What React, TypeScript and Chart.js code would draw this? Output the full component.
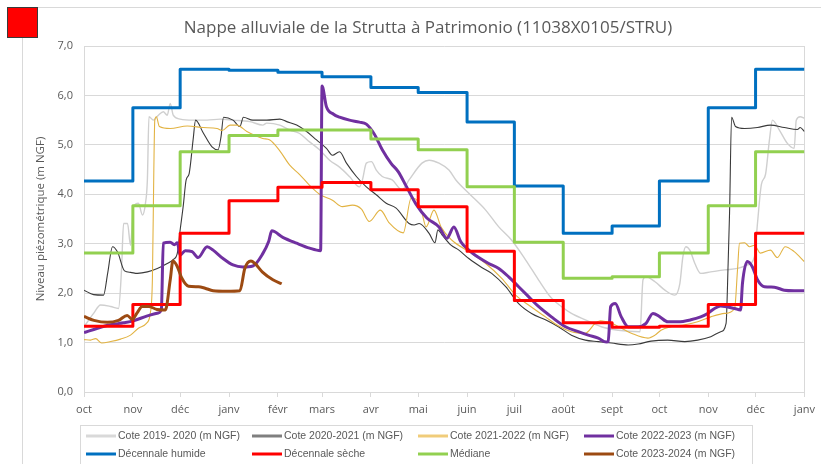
import React, { useEffect, useRef } from 'react';
import { Chart, registerables } from 'chart.js';

Chart.register(...registerables);

// ---- axis definitions (days since 1 October) ----
const monthStarts = [0, 31, 61, 92, 123, 151, 182, 212, 243, 273, 304, 335, 365, 396, 426, 457];
const monthLabels = ['oct', 'nov', 'déc', 'janv', 'févr', 'mars', 'avr', 'mai', 'juin', 'juil', 'août', 'sept', 'oct', 'nov', 'déc', 'janv'];
const yTicks = [0, 1, 2, 3, 4, 5, 6, 7];

const titleText = 'Nappe alluviale de la Strutta à Patrimonio (11038X0105/STRU)';
const yTitle = 'Niveau piézométrique (m NGF)';

// ---- monthly reference levels (one value per month, oct .. déc) ----
const decennaleHumide = [4.27, 5.75, 6.53, 6.51, 6.47, 6.38, 6.16, 6.06, 5.46, 4.17, 3.21, 3.36, 4.27, 5.75, 6.53];
const decennaleSeche = [1.33, 1.77, 3.21, 3.87, 4.14, 4.24, 4.09, 3.75, 2.85, 1.85, 1.40, 1.31, 1.33, 1.77, 3.21];
const mediane = [2.81, 3.77, 4.86, 5.19, 5.30, 5.30, 5.12, 4.90, 4.15, 3.03, 2.30, 2.33, 2.81, 3.77, 4.86];

// ---- Cote 2019-2020 ----
const cote1920Days = [0, 6.1, 10.5, 16.9, 21.9, 23.8, 25.1, 27.6, 29.5, 31.4, 34.5, 37.1, 39.0, 40.2, 41.2, 44.0, 47.2, 50.3, 52.8, 54.7, 56.6, 61.0, 69.2, 78.1, 86.3, 94.5, 105.2, 113.4, 115.9, 124.2, 130.5, 136.8, 143.1, 149.4, 155.8, 162.1, 168.4, 174.7, 176.6, 179.1, 182.3, 185.4, 189.2, 195.5, 201.8, 206.2, 214.4, 218.9, 225.2, 231.5, 235.9, 244.1, 254.8, 263.1, 271.3, 280.2, 288.3, 296.5, 302.8, 309.2, 318.0, 328.1, 338.8, 352.7, 354.6, 356.5, 362.2, 368.5, 374.8, 378.0, 379.9, 381.8, 384.3, 387.5, 391.2, 397.6, 406.4, 414.6, 420.9, 425.3, 427.2, 429.7, 432.3, 434.8, 436.7, 441.1, 446.2, 450.5, 451.8, 454.3, 457];
const cote1920Values = [1.32, 1.59, 1.76, 1.73, 1.69, 2.47, 3.41, 3.41, 2.97, 3.75, 3.82, 3.58, 3.82, 4.29, 5.57, 5.50, 5.60, 5.67, 5.60, 5.84, 5.60, 5.52, 5.50, 5.50, 5.52, 5.50, 5.47, 5.40, 5.44, 5.40, 5.30, 5.23, 5.06, 4.90, 4.69, 4.55, 4.36, 4.15, 4.29, 4.63, 4.66, 4.49, 4.36, 4.29, 4.09, 4.29, 4.63, 4.69, 4.63, 4.49, 4.29, 4.02, 3.68, 3.34, 3.07, 2.67, 2.27, 1.90, 1.73, 1.59, 1.46, 1.32, 1.25, 1.22, 2.27, 2.33, 2.23, 2.06, 1.96, 2.20, 2.74, 2.94, 2.87, 2.60, 2.40, 2.43, 2.47, 2.50, 2.57, 2.74, 3.41, 4.20, 4.40, 5.10, 5.50, 5.30, 5.03, 4.93, 5.50, 5.57, 5.54];

// ---- Cote 2020-2021 ----
const cote2021Days = [0, 6.1, 12.4, 15.0, 18.1, 21.3, 25.7, 29.5, 33.9, 40.2, 46.5, 52.8, 56.6, 59.2, 61.0, 62.9, 64.8, 66.7, 69.2, 70.8, 75.5, 81.2, 85.0, 86.9, 88.5, 94.5, 98.9, 101.1, 107.1, 116.0, 124.2, 128.6, 134.9, 141.2, 147.5, 153.8, 157.6, 162.1, 166.5, 172.8, 179.1, 185.4, 191.7, 198.0, 206.2, 209.4, 212.6, 218.9, 222.6, 224.5, 227.1, 232.8, 237.8, 244.1, 252.3, 258.6, 267.5, 275.7, 283.9, 292.7, 300.9, 309.2, 318.0, 326.2, 334.6, 345.2, 351.5, 359.7, 370.3, 381.1, 389.3, 397.6, 403.9, 407.3, 408.6, 409.5, 410.8, 413.3, 419.0, 427.2, 435.4, 444.2, 452.5, 454.3, 457];
const cote2021Values = [2.06, 1.97, 1.96, 2.40, 2.94, 2.83, 2.45, 2.42, 2.40, 2.43, 2.50, 2.60, 2.68, 2.81, 3.28, 3.75, 4.29, 4.42, 5.10, 5.50, 5.25, 4.96, 4.90, 5.16, 5.56, 5.50, 5.37, 5.56, 5.50, 5.50, 5.52, 5.47, 5.40, 5.27, 5.10, 4.93, 4.79, 4.86, 4.63, 4.36, 4.15, 3.99, 3.82, 3.72, 3.41, 3.38, 3.41, 3.21, 3.02, 3.28, 3.18, 2.97, 2.87, 2.70, 2.52, 2.40, 2.13, 1.79, 1.59, 1.46, 1.32, 1.15, 1.05, 1.02, 0.99, 0.95, 0.97, 1.03, 1.05, 1.02, 1.05, 1.12, 1.22, 1.39, 2.60, 3.62, 5.56, 5.37, 5.33, 5.35, 5.40, 5.35, 5.31, 5.35, 5.27];

// ---- Cote 2021-2022 ----
const cote2122Days = [0, 4.2, 7.4, 11.2, 16.9, 23.2, 29.5, 34.5, 39.6, 42.1, 43.4, 44.3, 44.9, 45.9, 47.8, 54.7, 65.5, 75.6, 84.4, 87.6, 92.6, 97.0, 103.3, 113.4, 117.9, 124.2, 130.5, 136.8, 143.1, 149.4, 157.6, 163.9, 170.3, 176.0, 181.0, 188.0, 193.6, 202.5, 207.6, 211.3, 214.4, 217.0, 222.0, 226.5, 233.4, 244.1, 254.8, 265.0, 273.8, 282.0, 292.7, 300.9, 309.2, 318.0, 324.3, 327.5, 334.6, 347.2, 357.7, 362.2, 366.0, 372.3, 381.1, 389.3, 397.6, 406.4, 412.7, 414.6, 415.8, 419.0, 422.1, 425.3, 429.1, 435.4, 439.8, 444.8, 450.5, 456.9];
const cote2122Values = [1.06, 1.05, 1.08, 0.99, 1.02, 1.07, 1.15, 1.29, 1.39, 1.60, 2.30, 4.50, 5.50, 5.57, 5.37, 5.33, 5.38, 5.35, 5.33, 5.29, 5.40, 5.40, 5.27, 5.13, 5.10, 4.88, 4.59, 4.40, 4.18, 4.00, 3.88, 3.75, 3.78, 3.70, 3.45, 3.68, 3.42, 3.22, 3.93, 3.88, 3.62, 3.34, 3.68, 3.34, 3.07, 2.84, 2.60, 2.30, 1.96, 1.76, 1.52, 1.34, 1.22, 1.19, 1.39, 1.44, 1.39, 1.19, 1.09, 1.15, 1.25, 1.32, 1.36, 1.42, 1.52, 1.59, 1.69, 2.50, 3.01, 3.02, 2.94, 2.97, 2.81, 2.87, 2.72, 2.94, 2.84, 2.64];

// ---- Cote 2022-2023 ----
const cote2223Days = [0, 8.6, 16.9, 25.1, 31.4, 40.2, 47.2, 49.1, 50.3, 54.7, 57.3, 59.2, 61.0, 64.2, 68.6, 72.4, 78.1, 81.9, 88.2, 94.5, 100.8, 107.1, 113.4, 117.2, 119.1, 126.1, 134.9, 143.1, 150.1, 151.0, 153.8, 158.3, 162.1, 168.4, 174.7, 179.1, 184.1, 189.2, 194.9, 199.3, 204.3, 210.6, 217.5, 225.2, 230.2, 234.6, 239.0, 244.1, 250.4, 256.7, 263.1, 269.4, 275.7, 282.0, 288.3, 296.5, 305.4, 313.6, 319.9, 326.2, 331.3, 332.5, 334.1, 337.0, 340.8, 345.2, 351.5, 356.5, 360.9, 365.3, 370.3, 376.7, 384.9, 391.2, 395.6, 400.0, 403.8, 412.7, 416.5, 417.7, 420.8, 424.0, 427.2, 431.6, 437.9, 444.2, 450.5, 457];
const cote2223Values = [1.20, 1.29, 1.36, 1.40, 1.44, 1.54, 1.60, 1.68, 3.01, 3.03, 2.98, 3.02, 2.77, 2.86, 2.84, 2.72, 2.94, 2.87, 2.70, 2.57, 2.53, 2.55, 2.80, 3.05, 3.26, 3.13, 3.01, 2.91, 2.86, 6.19, 5.77, 5.62, 5.56, 5.50, 5.46, 5.42, 5.22, 4.90, 4.62, 4.46, 4.17, 3.80, 3.52, 3.34, 3.11, 3.34, 3.04, 2.87, 2.72, 2.60, 2.50, 2.33, 2.13, 1.93, 1.73, 1.52, 1.32, 1.22, 1.15, 1.09, 1.01, 1.02, 1.73, 1.79, 1.52, 1.32, 1.32, 1.39, 1.59, 1.52, 1.42, 1.42, 1.46, 1.52, 1.59, 1.69, 1.74, 1.69, 1.66, 2.20, 2.64, 2.53, 2.27, 2.13, 2.12, 2.06, 2.05, 2.05];

// ---- Cote 2023-2024 ----
const cote2324Days = [0, 6.3, 14.8, 21.9, 27.4, 30.6, 33.7, 36.9, 41.0, 46.3, 51.6, 54.7, 56.4, 59.0, 62.1, 66.3, 72.6, 76.8, 81.9, 90.7, 98.9, 102.0, 105.9, 108.4, 113.4, 119.8, 125.4];
const cote2324Values = [1.53, 1.45, 1.41, 1.45, 1.55, 1.47, 1.60, 1.73, 1.73, 1.67, 1.66, 2.27, 2.65, 2.55, 2.30, 2.14, 2.13, 2.10, 2.05, 2.04, 2.05, 2.50, 2.65, 2.60, 2.42, 2.27, 2.19];

const GRID = '#d9d9d9';
const TEXT = '#595959';
const FONT = '"Open Sans", "Liberation Sans", sans-serif';

function curve(days: number[], vals: number[]) {
  return days.map((d, i) => ({ x: d, y: vals[i] }));
}
function steps(vals: number[]) {
  const pts = vals.map((v, i) => ({ x: monthStarts[i], y: v }));
  pts.push({ x: monthStarts[monthStarts.length - 1], y: vals[vals.length - 1] });
  return pts;
}

type Item = { label: string; color: string; legendColor: string; width: number; data: { x: number; y: number }[]; stepped?: boolean };

const items: Item[] = [
  { label: 'Cote 2019- 2020 (m NGF)', color: '#cfcfcf', legendColor: '#d9d9d9', width: 1.4, data: curve(cote1920Days, cote1920Values) },
  { label: 'Cote 2020-2021 (m NGF)', color: '#3a3a3a', legendColor: '#7f7f7f', width: 1.1, data: curve(cote2021Days, cote2021Values) },
  { label: 'Cote 2021-2022 (m NGF)', color: '#e2b343', legendColor: '#f0cc7a', width: 1.1, data: curve(cote2122Days, cote2122Values) },
  { label: 'Cote 2022-2023 (m NGF)', color: '#7030a0', legendColor: '#7030a0', width: 3, data: curve(cote2223Days, cote2223Values) },
  { label: 'Décennale humide', color: '#0070c0', legendColor: '#0070c0', width: 3, data: steps(decennaleHumide), stepped: true },
  { label: 'Décennale sèche', color: '#ff0000', legendColor: '#ff0000', width: 3, data: steps(decennaleSeche), stepped: true },
  { label: 'Médiane', color: '#92d050', legendColor: '#92d050', width: 3, data: steps(mediane), stepped: true },
  { label: 'Cote 2023-2024 (m NGF)', color: '#9c4a12', legendColor: '#9c4a12', width: 3, data: curve(cote2324Days, cote2324Values) },
];

const decor = {
  id: 'decor',
  beforeDraw(chart: any) {
    const ctx = chart.ctx;
    ctx.save();
    ctx.fillStyle = '#ffffff';
    ctx.fillRect(0, 0, chart.width, chart.height);
    ctx.strokeStyle = GRID;
    ctx.lineWidth = 1;
    ctx.strokeRect(22.5, 7.5, 1000, 1000);
    ctx.restore();
  },
  beforeDatasetsDraw(chart: any) {
    const { ctx, chartArea: ca } = chart;
    ctx.save();
    ctx.strokeStyle = GRID;
    ctx.lineWidth = 1;
    ctx.beginPath();
    const l = Math.round(ca.left) + 0.5;
    const r = Math.round(ca.right) + 0.5;
    ctx.moveTo(l, ca.top);
    ctx.lineTo(l, ca.bottom);
    ctx.moveTo(r, ca.top);
    ctx.lineTo(r, ca.bottom);
    ctx.stroke();
    ctx.restore();
  },
  afterDraw(chart: any) {
    const ctx = chart.ctx;
    ctx.save();
    // red marker
    ctx.fillStyle = '#ff0000';
    ctx.fillRect(8, 8, 29, 29);
    ctx.strokeStyle = '#3a3a3a';
    ctx.lineWidth = 1;
    ctx.strokeRect(7.5, 7.5, 30, 30);
    // title
    ctx.fillStyle = TEXT;
    ctx.font = '17px ' + FONT;
    ctx.textAlign = 'center';
    ctx.textBaseline = 'middle';
    ctx.fillText(titleText, 428, 28);
    // legend box
    ctx.strokeStyle = GRID;
    ctx.strokeRect(80.5, 425.5, 672, 60);
    const cols = [86, 252, 418, 584];
    const rows = [436, 454];
    ctx.font = '10.5px "Liberation Sans", sans-serif';
    ctx.textAlign = 'left';
    items.forEach((it, i) => {
      const x = cols[i % 4];
      const y = rows[Math.floor(i / 4)];
      ctx.strokeStyle = it.legendColor;
      ctx.lineWidth = 3;
      ctx.beginPath();
      ctx.moveTo(x, y);
      ctx.lineTo(x + 30, y);
      ctx.stroke();
      ctx.fillStyle = TEXT;
      ctx.fillText(it.label, x + 32, y);
    });
    ctx.restore();
  },
};

export default function App() {
  const ref = useRef<HTMLCanvasElement>(null);
  useEffect(() => {
    if (!ref.current) return;
    const chart = new Chart(ref.current, {
      type: 'line',
      data: {
        datasets: items.map((it, i) => ({
          label: it.label,
          data: it.data,
          borderColor: it.color,
          backgroundColor: it.color,
          borderWidth: it.width,
          pointRadius: 0,
          pointHoverRadius: 0,
          fill: false,
          stepped: it.stepped ? 'before' : false,
          cubicInterpolationMode: it.stepped ? 'default' : 'monotone',
          tension: it.stepped ? 0 : 0.4,
          borderJoinStyle: 'round',
          order: items.length - 1 - i,
        })) as any,
      },
      options: {
        animation: false,
        responsive: false,
        maintainAspectRatio: false,
        events: [],
        layout: { padding: { left: 0, right: 13, top: 46, bottom: 0 } },
        plugins: {
          legend: { display: false },
          title: { display: false },
          tooltip: { enabled: false },
        },
        scales: {
          x: {
            type: 'linear',
            min: 0,
            max: 457,
            afterBuildTicks: (scale: any) => {
              scale.ticks = monthStarts.map((v) => ({ value: v }));
            },
            afterFit: (scale: any) => {
              scale.height = 72;
            },
            ticks: {
              autoSkip: false,
              maxRotation: 0,
              minRotation: 0,
              padding: 6,
              color: TEXT,
              font: { family: FONT, size: 11 },
              callback: (_v: any, i: number) => monthLabels[i],
            },
            grid: { drawOnChartArea: false, drawTicks: true, tickLength: 5, color: GRID },
            border: { display: true, color: GRID },
          },
          y: {
            type: 'linear',
            min: 0,
            max: 7,
            afterBuildTicks: (scale: any) => {
              scale.ticks = yTicks.map((v) => ({ value: v }));
            },
            afterFit: (scale: any) => {
              scale.width = 84;
            },
            ticks: {
              padding: 11,
              color: TEXT,
              font: { family: FONT, size: 11 },
              callback: (v: any) => Number(v).toFixed(1).replace('.', ','),
            },
            grid: { color: GRID, drawTicks: false },
            border: { display: false },
            title: {
              display: true,
              text: yTitle,
              color: TEXT,
              font: { family: FONT, size: 11.5 },
              padding: { top: 34, bottom: 0 },
            },
          },
        },
      },
      plugins: [decor],
    });
    return () => chart.destroy();
  }, []);
  return (
    <div style={{ position: 'absolute', left: 0, top: 0, width: 821, height: 464, background: '#fff' }}>
      <canvas ref={ref} width={821} height={464} style={{ display: 'block', width: 821, height: 464 }} />
    </div>
  );
}
